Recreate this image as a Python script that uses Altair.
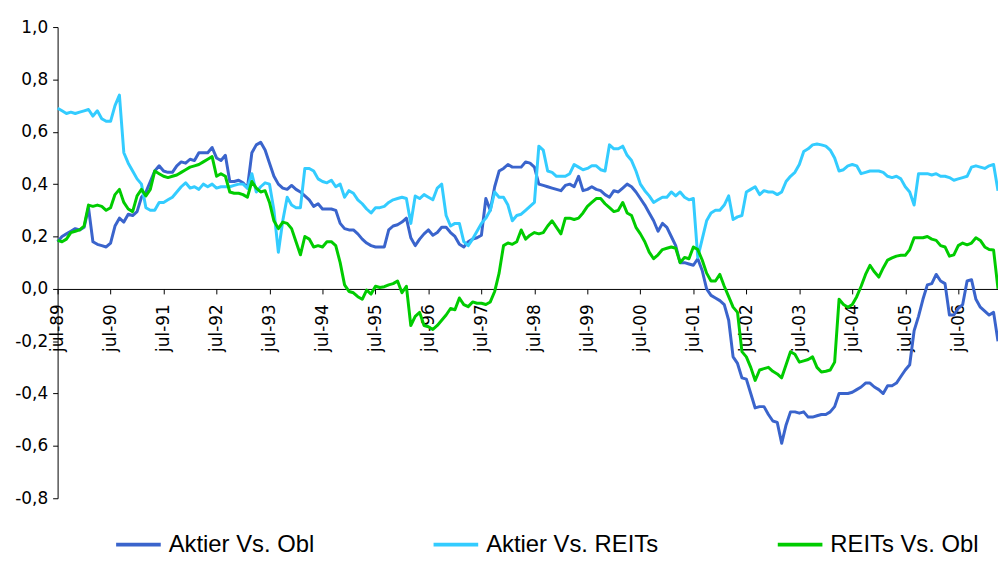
import altair as alt
import pandas as pd

series_names = ["Aktier Vs. Obl", "Aktier Vs. REITs", "REITs Vs. Obl"]
series_colors = ["#3A64CC", "#33CCFF", "#00CC00"]

# monthly values, Jul-89 .. Apr-07 (index 0 = Jul-89)
aktier_obl = [
    0.18, 0.20, 0.21, 0.22, 0.23, 0.225, 0.235, 0.31, 0.18, 0.17, 0.165, 0.16,
    0.175, 0.24, 0.27, 0.255, 0.285, 0.28, 0.295, 0.35, 0.37, 0.41, 0.45, 0.47,
    0.45, 0.445, 0.445, 0.47, 0.485, 0.48, 0.495, 0.49, 0.52, 0.52, 0.52, 0.54,
    0.50, 0.49, 0.51, 0.41, 0.41, 0.415, 0.405, 0.385, 0.52, 0.55, 0.56, 0.53,
    0.48, 0.43, 0.40, 0.385, 0.38, 0.395, 0.38, 0.37, 0.355, 0.34, 0.315, 0.325,
    0.305, 0.305, 0.305, 0.30, 0.25, 0.23, 0.225, 0.225, 0.21, 0.19, 0.175, 0.165,
    0.16, 0.16, 0.16, 0.225, 0.24, 0.245, 0.255, 0.27, 0.195, 0.165, 0.19, 0.21,
    0.225, 0.205, 0.215, 0.235, 0.235, 0.215, 0.20, 0.17, 0.16, 0.18, 0.19, 0.195,
    0.205, 0.345, 0.30, 0.39, 0.45, 0.46, 0.475, 0.465, 0.465, 0.465, 0.485, 0.48,
    0.465, 0.40, 0.395, 0.39, 0.385, 0.38, 0.375, 0.395, 0.40, 0.39, 0.43, 0.375,
    0.38, 0.39, 0.38, 0.375, 0.36, 0.35, 0.375, 0.37, 0.385, 0.40, 0.39, 0.37,
    0.345, 0.32, 0.29, 0.26, 0.22, 0.25, 0.235, 0.20, 0.165, 0.10, 0.10, 0.095,
    0.09, 0.115, 0.07, 0.0, -0.025, -0.035, -0.045, -0.06, -0.12, -0.26, -0.285, -0.34,
    -0.345, -0.40, -0.455, -0.45, -0.45, -0.48, -0.505, -0.51, -0.59, -0.52, -0.47, -0.47,
    -0.475, -0.47, -0.49, -0.49, -0.485, -0.48, -0.48, -0.47, -0.45, -0.40, -0.40, -0.40,
    -0.395, -0.385, -0.375, -0.36, -0.36, -0.375, -0.385, -0.40, -0.37, -0.37, -0.36, -0.335,
    -0.31, -0.29, -0.16, -0.105, -0.04, 0.015, 0.02, 0.055, 0.03, 0.02, -0.10, -0.10,
    -0.075, -0.06, 0.03, 0.035, -0.04, -0.07, -0.085, -0.10, -0.09, -0.20,
]

aktier_reits = [
    0.69, 0.68, 0.67, 0.675, 0.67, 0.675, 0.68, 0.685, 0.66, 0.68, 0.65, 0.64,
    0.64, 0.70, 0.74, 0.52, 0.48, 0.45, 0.42, 0.40, 0.31, 0.30, 0.30, 0.33,
    0.33, 0.34, 0.35, 0.37, 0.39, 0.405, 0.385, 0.39, 0.38, 0.40, 0.39, 0.40,
    0.385, 0.39, 0.39, 0.39, 0.395, 0.40, 0.40, 0.385, 0.44, 0.37, 0.39, 0.405,
    0.40, 0.30, 0.14, 0.26, 0.35, 0.32, 0.31, 0.31, 0.46, 0.46, 0.45, 0.42,
    0.41, 0.405, 0.415, 0.39, 0.40, 0.35, 0.375, 0.365, 0.34, 0.325, 0.305, 0.29,
    0.31, 0.31, 0.315, 0.33, 0.34, 0.345, 0.35, 0.345, 0.25, 0.355, 0.345, 0.36,
    0.35, 0.34, 0.385, 0.40, 0.28, 0.24, 0.25, 0.25, 0.18, 0.165, 0.19, 0.22,
    0.25, 0.27, 0.30, 0.37, 0.35, 0.35, 0.32, 0.26, 0.28, 0.285, 0.30, 0.315,
    0.33, 0.545, 0.53, 0.45, 0.445, 0.43, 0.43, 0.43, 0.44, 0.475, 0.465, 0.455,
    0.46, 0.47, 0.47, 0.455, 0.45, 0.55, 0.535, 0.535, 0.545, 0.51, 0.49, 0.45,
    0.40, 0.375, 0.355, 0.33, 0.34, 0.35, 0.35, 0.37, 0.355, 0.37, 0.35, 0.34,
    0.345, 0.12, 0.19, 0.26, 0.29, 0.30, 0.30, 0.32, 0.355, 0.265, 0.275, 0.28,
    0.37, 0.38, 0.39, 0.36, 0.375, 0.37, 0.37, 0.36, 0.37, 0.41, 0.43, 0.445,
    0.475, 0.525, 0.535, 0.55, 0.553, 0.55, 0.545, 0.53, 0.50, 0.45, 0.455, 0.47,
    0.475, 0.47, 0.44, 0.445, 0.45, 0.45, 0.45, 0.445, 0.43, 0.425, 0.43, 0.42,
    0.39, 0.37, 0.32, 0.44, 0.44, 0.44, 0.435, 0.44, 0.43, 0.43, 0.425, 0.415,
    0.42, 0.425, 0.43, 0.465, 0.47, 0.465, 0.46, 0.47, 0.475, 0.375,
]

reits_obl = [
    0.185, 0.18, 0.19, 0.215, 0.22, 0.225, 0.24, 0.32, 0.315, 0.32, 0.315, 0.30,
    0.31, 0.36, 0.38, 0.33, 0.305, 0.295, 0.355, 0.38, 0.355, 0.38, 0.45, 0.44,
    0.43, 0.425, 0.43, 0.435, 0.445, 0.455, 0.465, 0.47, 0.475, 0.485, 0.495, 0.505,
    0.43, 0.44, 0.43, 0.37, 0.365, 0.365, 0.36, 0.35, 0.41, 0.385, 0.37, 0.375,
    0.33, 0.26, 0.23, 0.255, 0.25, 0.23, 0.18, 0.13, 0.20, 0.19, 0.16, 0.165,
    0.16, 0.18, 0.18, 0.165, 0.10, 0.015, -0.01, -0.015, -0.03, -0.04, -0.005, -0.02,
    0.01, 0.005, 0.008, 0.015, 0.02, 0.03, -0.015, 0.01, -0.14, -0.105, -0.09, -0.14,
    -0.145, -0.155, -0.14, -0.12, -0.10, -0.075, -0.08, -0.035, -0.06, -0.068, -0.05, -0.055,
    -0.055, -0.06, -0.05, -0.01, 0.06, 0.165, 0.175, 0.17, 0.18, 0.225, 0.19, 0.205,
    0.215, 0.21, 0.215, 0.24, 0.26, 0.235, 0.21, 0.27, 0.27, 0.265, 0.27, 0.29,
    0.315, 0.33, 0.345, 0.345, 0.325, 0.31, 0.295, 0.30, 0.33, 0.29, 0.28, 0.235,
    0.21, 0.18, 0.14, 0.115, 0.13, 0.15, 0.155, 0.16, 0.155, 0.10, 0.12, 0.115,
    0.16, 0.15, 0.11, 0.06, 0.03, 0.03, 0.055, 0.01, -0.03, -0.07, -0.09, -0.24,
    -0.26, -0.30, -0.35, -0.31, -0.305, -0.30, -0.315, -0.325, -0.34, -0.29, -0.24, -0.25,
    -0.28, -0.275, -0.27, -0.26, -0.30, -0.318, -0.315, -0.31, -0.28, -0.04, -0.06, -0.07,
    -0.06, -0.03, 0.01, 0.055, 0.09, 0.065, 0.045, 0.08, 0.11, 0.118, 0.125, 0.128,
    0.128, 0.15, 0.195, 0.195, 0.195, 0.20, 0.19, 0.185, 0.165, 0.16, 0.125, 0.13,
    0.165, 0.175, 0.168, 0.175, 0.195, 0.185, 0.16, 0.15, 0.148, 0.0,
]

y_ticks = [-0.8, -0.6, -0.4, -0.2, 0.0, 0.2, 0.4, 0.6, 0.8, 1.0]
x_ticks = list(range(0, 205, 12))  # every July, jul-89 .. jul-06

n = len(aktier_obl)
assert n == len(aktier_reits) == len(reits_obl)

rows = []
for name, vals in zip(series_names, [aktier_obl, aktier_reits, reits_obl]):
    for i, v in enumerate(vals):
        rows.append({"m": i, "v": v, "serie": name, "ord": series_names.index(name)})
df = pd.DataFrame(rows)

x_label_expr = (
    "'jul-' + ((89 + round(datum.value / 12)) % 100 < 10 ? '0' : '') + "
    "((89 + round(datum.value / 12)) % 100)"
)
y_label_expr = "(datum.value < -0.001 ? '-' : '') + replace(format(abs(datum.value), '.1f'), '.', ',')"

chart = (
    alt.Chart(df)
    .mark_line(strokeWidth=3, strokeJoin="round")
    .encode(
        x=alt.X(
            "m:Q",
            scale=alt.Scale(domain=[0, n - 1], nice=False, zero=False),
            axis=alt.Axis(
                values=x_ticks,
                labelExpr=x_label_expr,
                labelAngle=270,
                labelAlign="right",
                labelBaseline="middle",
                labelPadding=10,
                tickSize=5,
                offset=-211,
                grid=False,
                title=None,
                labelFont="DejaVu Sans",
                labelFontSize=17,
                labelColor="#000000",
                domainColor="#000000",
                tickColor="#000000",
                labelOverlap=False,
                labelFlush=False,
            ),
        ),
        y=alt.Y(
            "v:Q",
            scale=alt.Scale(domain=[-0.8, 1.0], nice=False, zero=False),
            axis=alt.Axis(
                values=y_ticks,
                labelExpr=y_label_expr,
                tickSize=5,
                labelPadding=5,
                grid=False,
                title=None,
                labelFont="DejaVu Sans",
                labelFontSize=17,
                labelColor="#000000",
                domainColor="#000000",
                tickColor="#000000",
                labelOverlap=False,
                labelFlush=False,
            ),
        ),
        color=alt.Color(
            "serie:N",
            scale=alt.Scale(domain=series_names, range=series_colors),
            legend=alt.Legend(
                title=None,
                orient="none",
                legendX=57,
                legendY=497,
                direction="horizontal",
                columns=3,
                columnPadding=112,
                gridAlign="each",
                symbolType="stroke",
                symbolSize=2025,
                symbolStrokeWidth=4,
                labelFont="Liberation Sans",
                labelFontSize=24,
                labelColor="#000000",
                labelOffset=6,
                labelLimit=400,
            ),
        ),
        order="ord:Q",
        detail="serie:N",
    )
    .properties(
        width=948,
        height=475,
        autosize=alt.AutoSizeParams(type="none"),
        padding={"left": 50, "top": 17, "right": 0, "bottom": 57},
        background="#ffffff",
    )
    .configure_view(stroke=None)
)

chart.save("out.html", embed_options={"renderer": "svg", "actions": False})
